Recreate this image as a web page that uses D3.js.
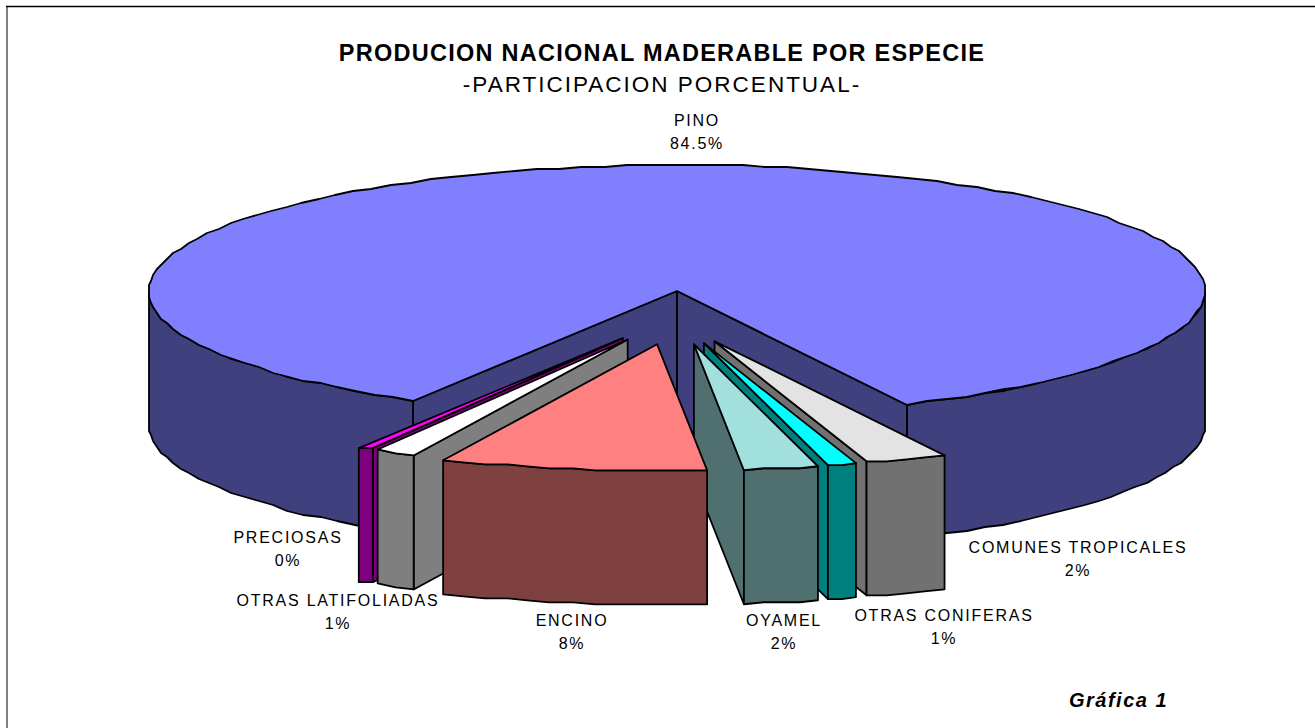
<!DOCTYPE html>
<html><head><meta charset="utf-8">
<script src="https://cdn.jsdelivr.net/npm/d3@7"></script>
<style>html,body{margin:0;padding:0;background:#fff}svg{display:block}text{font-family:"Liberation Sans",Arial,sans-serif;fill:#000}</style>
</head><body><svg id="c" width="1315" height="728"></svg>
<script>
const categories=["PINO","COMUNES TROPICALES","OTRAS CONIFERAS","OYAMEL","ENCINO","OTRAS LATIFOLIADAS","PRECIOSAS"];
const values=[84.5,2.53,0.86,2.25,8.19,1.22,0.45];
const valueLabels=["84.5%","2%","1%","2%","8%","1%","0%"];
const topColors=["#8080ff","#e3e3e3","#00ffff","#a2e0e0","#ff8080","#ffffff","#ff00ff"];
const sideColors=["#40407f","#717171","#007f7f","#507070","#7f4040","#7f7f7f","#7f007f"];
const svg=d3.select("#c");
const cx=677,cy=291,rx=528,ry=126,depth=134,ex=105,ey=54,shiftL=-3,shiftR=-0.5,grid=2;
const toRad=d3.scaleLinear().domain([0,360]).range([0,2*Math.PI]);
const start=toRad(210);
const arcs=d3.pie().sort(null).value(d=>d.v).startAngle(start).endAngle(start+2*Math.PI)(values.map((v,i)=>({v,i})));
const X=d3.scaleLinear().domain([-1,1]).range([-rx,rx]);
const Y=d3.scaleLinear().domain([-1,1]).range([-ry,ry]);
const snap=v=>Math.round(v/grid)*grid;
const line=d3.line().curve(d3.curveLinearClosed);
const frame=svg.append("g");
frame.append("line").attr("x1",7).attr("x2",7).attr("y1",6).attr("y2",728).attr("stroke","#808080").attr("stroke-width",2);
frame.append("line").attr("x1",6).attr("x2",1315).attr("y1",6.5).attr("y2",6.5).attr("stroke","#000").attr("stroke-width",1.5);
function explode(a){
  if(a.index===0) return [0,0];
  const m=(a.startAngle+a.endAngle)/2,s=Math.sin(m);
  return [ex*s+(s<0?shiftL:shiftR),-ey*Math.cos(m)];
}
function P(phi,o,d=0){return [cx+snap(X(Math.sin(phi)))+o[0],cy+snap(Y(-Math.cos(phi)))+o[1]+d];}
function arcPts(a0,a1,o,d=0){
  const n=Math.max(2,Math.ceil(Math.abs(a1-a0)/toRad(2.5)));
  return d3.range(n+1).map(i=>P(a0+(a1-a0)*i/n,o,d));
}
const g=svg.append("g").attr("stroke","#000").attr("stroke-width",1.8).attr("stroke-linejoin","round");
function poly(pts,fill){g.append("path").attr("d",line(pts)).attr("fill",fill);}
function wall(a,phi,o){
  const A=[cx+o[0],cy+o[1]],Q=P(phi,o);
  poly([A,Q,[Q[0],Q[1]+depth],[A[0],A[1]+depth]],sideColors[a.index]);
}
function outer(a,a0,a1,o){
  const t=arcPts(a0,a1,o),b=arcPts(a0,a1,o,depth).reverse();
  poly(t.concat(b),sideColors[a.index]);
}
function topFace(a){
  const o=explode(a);
  poly([[cx+o[0],cy+o[1]],...arcPts(a.startAngle,a.endAngle,o)],topColors[a.index]);
}
const pino=arcs[0];
const o0=[0,0];
wall(pino,pino.startAngle,o0);
wall(pino,pino.endAngle,o0);
outer(pino,toRad(90)+2*Math.PI,pino.endAngle,o0);
outer(pino,pino.startAngle,toRad(270),o0);
topFace(pino);
const order=[6,5,1,2,3,4];
order.forEach(i=>{
  const a=arcs[i],o=explode(a);
  if(Math.sin(a.endAngle)>0) wall(a,a.endAngle,o);
  if(Math.sin(a.startAngle)<0) wall(a,a.startAngle,o);
  outer(a,a.startAngle,a.endAngle,o);
  topFace(a);
});
const labelPos=[[697,126],[1078,553],[944,621],[784,626],[572,626],[338,606],[288,543]];
const lg=svg.append("g");
categories.forEach((c,i)=>{
  const t=lg.append("g");
  const r=t.append("rect").attr("fill","#fff");
  const tx=t.append("text").attr("text-anchor","middle").attr("font-size",16).attr("letter-spacing",1.75);
  tx.append("tspan").attr("x",labelPos[i][0]).attr("y",labelPos[i][1]).text(c);
  tx.append("tspan").attr("x",labelPos[i][0]).attr("y",labelPos[i][1]+23).text(valueLabels[i]);
  const b=tx.node().getBBox();
  r.attr("x",b.x-1).attr("y",b.y-1).attr("width",b.width+2).attr("height",b.height+2);
});
svg.append("text").attr("x",662).attr("y",61).attr("text-anchor","middle").attr("font-size",23.5).attr("font-weight","bold").attr("letter-spacing",1.25).text("PRODUCION NACIONAL MADERABLE POR ESPECIE");
svg.append("text").attr("x",662).attr("y",92).attr("text-anchor","middle").attr("font-size",22.5).attr("letter-spacing",2).text("-PARTICIPACION PORCENTUAL-");
svg.append("text").attr("x",1069).attr("y",707).attr("font-size",20).attr("font-weight","bold").attr("font-style","italic").attr("letter-spacing",1.5).text("Gráfica 1");
</script></body></html>
